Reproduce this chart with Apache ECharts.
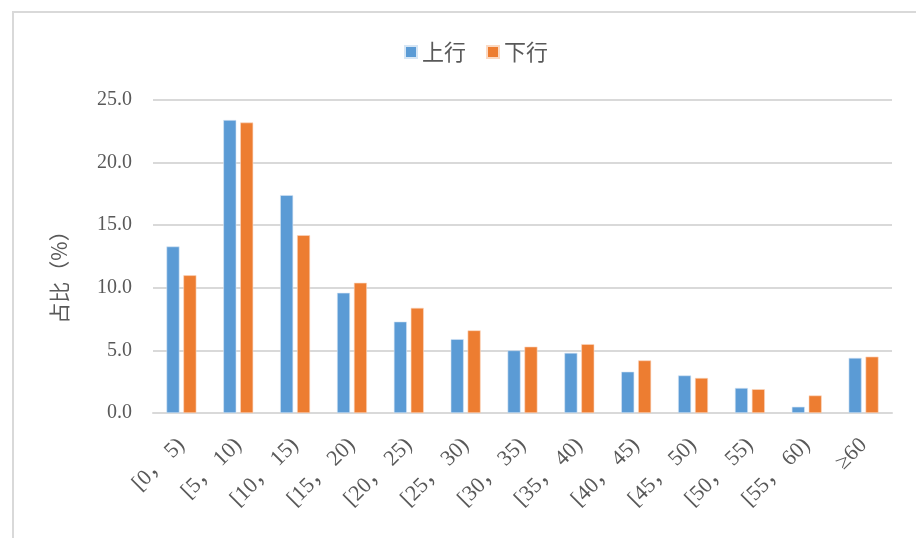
<!DOCTYPE html>
<html>
<head>
<meta charset="utf-8">
<script src="https://cdn.jsdelivr.net/npm/echarts@6/dist/echarts.min.js"></script>
<style>
  html, body { margin: 0; padding: 0; background: #fff; }
  #chart { width: 916px; height: 538px; }
</style>
</head>
<body>
<div id="chart"></div>
<script>
// Distance bands (km) and share of trips (%) by direction
const categories = ['[0， 5)', '[5， 10)', '[10， 15)', '[15， 20)', '[20， 25)', '[25， 30)', '[30， 35)',
                    '[35， 40)', '[40， 45)', '[45， 50)', '[50， 55)', '[55， 60)', '≥60'];
const upValues   = [13.3, 23.4, 17.4, 9.6, 7.3, 5.9, 5.0, 4.8, 3.3, 3.0, 2.0, 0.5, 4.4];
const downValues = [11.0, 23.2, 14.2, 10.4, 8.4, 6.6, 5.3, 5.5, 4.2, 2.8, 1.9, 1.4, 4.5];
const seriesNames = ['上行', '下行'];
const yAxisTitle = '占比（%）';
const yTicks = { min: 0, max: 25, interval: 5 };

const serif = '"Liberation Serif", "Noto Sans CJK SC", serif';
const cjk = '"Noto Sans CJK SC", sans-serif';
const textGray = '#595959';

const chart = echarts.init(document.getElementById('chart'), null, { renderer: 'canvas' });
chart.setOption({
  backgroundColor: '#fff',
  animation: false,
  graphic: [
    {
      type: 'rect',
      shape: { x: 13, y: 12, width: 960, height: 600 },
      style: { fill: 'none', stroke: '#d9d9d9', lineWidth: 2 },
      silent: true
    },
    {
      type: 'text',
      x: 59,
      y: 272,
      rotation: Math.PI / 2,
      style: {
        text: yAxisTitle,
        fontFamily: cjk,
        fontSize: 21,
        fill: textGray,
        align: 'center',
        verticalAlign: 'middle'
      },
      silent: true
    }
  ],
  legend: {
    data: seriesNames,
    top: 36,
    left: 399,
    itemWidth: 12,
    itemHeight: 12,
    itemGap: 20,
    icon: 'rect',
    textStyle: { fontFamily: cjk, fontSize: 22, color: textGray }
  },
  grid: { left: 153, right: 24, top: 100, bottom: 125, containLabel: false },
  xAxis: {
    type: 'category',
    data: categories,
    axisLine: { lineStyle: { color: '#d9d9d9', width: 2 } },
    axisTick: { show: false },
    axisLabel: {
      interval: 0,
      rotate: 45,
      margin: 29,
      fontFamily: serif,
      fontSize: 22,
      color: textGray
    }
  },
  yAxis: {
    type: 'value',
    min: yTicks.min,
    max: yTicks.max,
    interval: yTicks.interval,
    axisLine: { show: false },
    axisTick: { show: false },
    splitLine: { lineStyle: { color: '#d9d9d9', width: 2 } },
    axisLabel: {
      margin: 21,
      fontFamily: serif,
      fontSize: 20,
      color: textGray,
      formatter: v => v.toFixed(1)
    }
  },
  series: [
    {
      name: seriesNames[0],
      type: 'bar',
      data: upValues,
      barWidth: 13,
      barGap: '30%',
      itemStyle: { color: '#5b9bd5', borderColor: '#d6e6f5', borderWidth: 0.6 }
    },
    {
      name: seriesNames[1],
      type: 'bar',
      data: downValues,
      barWidth: 13,
      barGap: '30%',
      itemStyle: { color: '#ed7d31', borderColor: '#fbd9c2', borderWidth: 0.6 }
    }
  ]
});
</script>
</body>
</html>
